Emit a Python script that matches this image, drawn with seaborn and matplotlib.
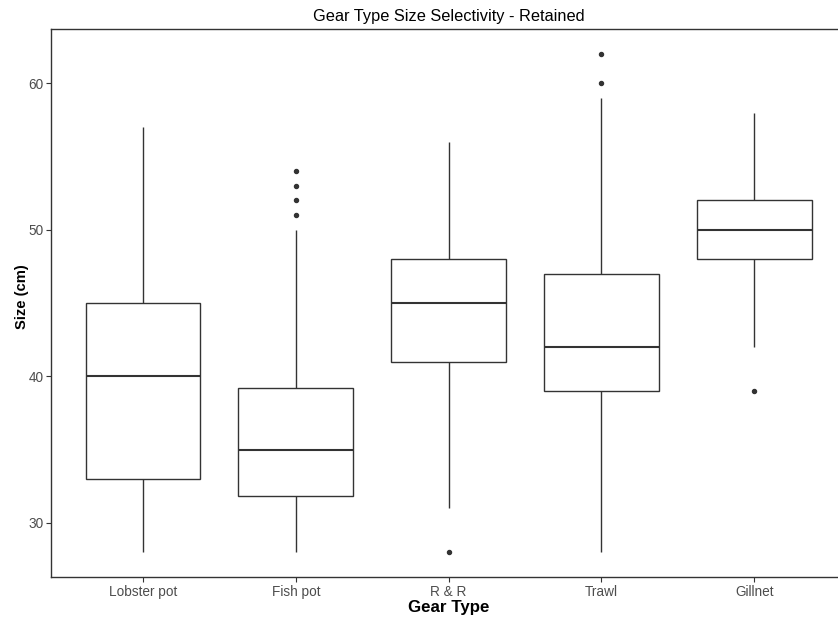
import pandas as pd
import matplotlib.pyplot as plt
import seaborn as sns

# === Retained sizes (cm) per gear type ===
gear_types = ["Lobster pot", "Fish pot", "R & R", "Trawl", "Gillnet"]
lobster_pot = [28, 33, 40, 45, 57]
fish_pot = [28, 29, 30, 31, 31, 31.8, 32, 33, 34, 34, 35, 36, 37, 38, 39, 39.2,
            50, 51, 52, 53, 54]
r_and_r = [28, 31, 41, 43, 45, 47, 48, 52, 56]
trawl = [28, 35, 38, 39, 40, 41, 42, 44, 46, 47, 59, 60, 62]
gillnet = [39, 42, 48, 49, 50, 51, 52, 55, 58]

sizes = [lobster_pot, fish_pot, r_and_r, trawl, gillnet]
df = pd.DataFrame({
    "Gear Type": [g for g, vals in zip(gear_types, sizes) for _ in vals],
    "Size": [v for vals in sizes for v in vals],
})

sns.set_theme(style="white")
plt.rcParams['font.family'] = ['Liberation Sans', 'DejaVu Sans']

fig = plt.figure(figsize=(8.38, 6.17), dpi=100)
# panel runs slightly past the right edge, as in the original export
ax = fig.add_axes([0.0612, 0.0648, 0.9483, 0.8882])

dark = "#333333"
sns.boxplot(data=df, x="Gear Type", y="Size", order=gear_types, ax=ax,
            color="white", linecolor=dark, linewidth=1.0, width=0.75,
            whis=1.5, showcaps=False, fliersize=2.9,
            flierprops={'marker': 'o', 'markerfacecolor': dark,
                        'markeredgecolor': dark},
            medianprops={'linewidth': 1.5, 'color': dark})

ax.set_xlim(-0.6, 4.6)
ax.set_ylim(26.3, 63.7)
ax.set_yticks([30, 40, 50, 60])

ax.set_title("Gear Type Size Selectivity - Retained", fontsize=11.8,
             color="black", pad=6)
ax.set_xlabel("Gear Type", fontsize=12.2, fontweight="bold", labelpad=1,
              color="black")
ax.set_ylabel("Size (cm)", fontsize=10.6, fontweight="bold", color="black")
ax.yaxis.set_label_coords(-0.028, 0.512)

for side in ["top", "left", "bottom", "right"]:
    ax.spines[side].set_visible(True)
    ax.spines[side].set_color(dark)
    ax.spines[side].set_linewidth(1.0)
ax.tick_params(axis="both", which="both", length=3.5, width=0.8, color=dark,
               labelsize=9.8, labelcolor="#4d4d4d", direction="out",
               bottom=True, left=True, pad=2)
ax.grid(False)

fig.savefig("out.png", dpi=100)
